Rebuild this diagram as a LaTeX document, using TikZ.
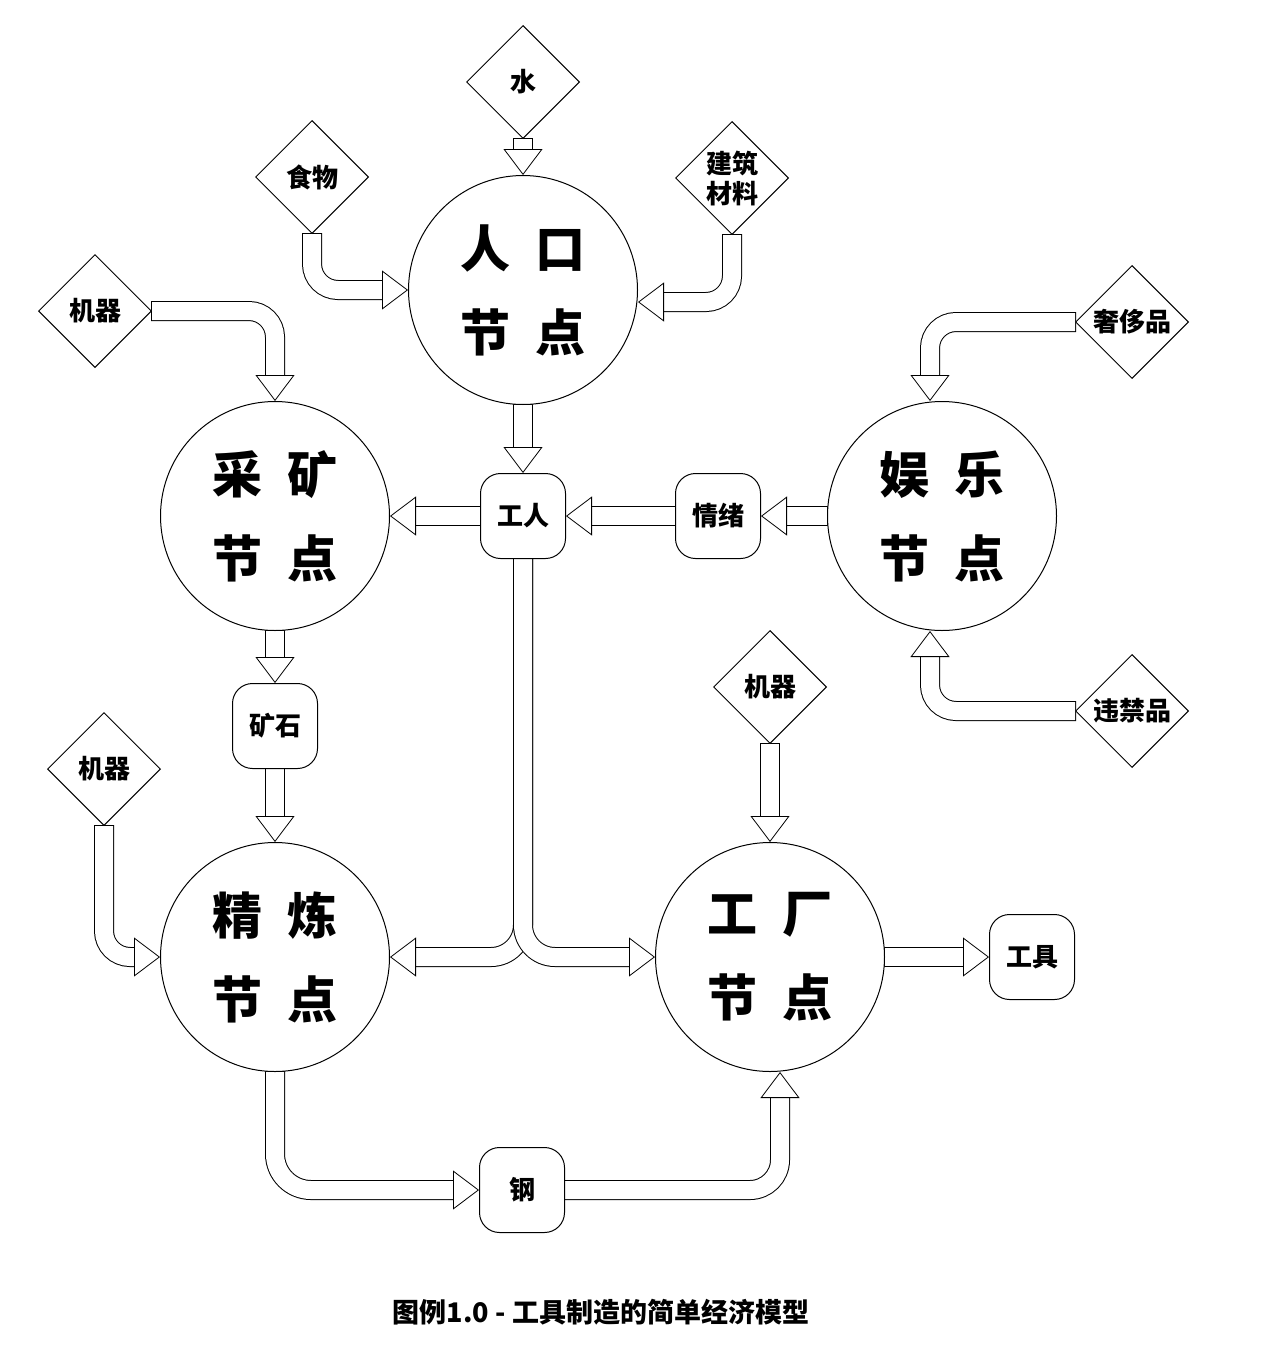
\documentclass[tikz,border=0pt]{standalone}
\usepackage{fontspec}
\newfontfamily\cjk{Noto Sans CJK SC}
\usetikzlibrary{arrows.meta, shapes.geometric}
\pgfdeclarelayer{pipes}
\pgfsetlayers{pipes,main}
\tikzset{
  hub/.style={circle, draw, fill=white, line width=1pt, minimum size=229pt, inner sep=0pt, align=center, font=\cjk\bfseries\fontsize{50pt}{84pt}\selectfont},
  good/.style={draw, fill=white, line width=1pt, rounded corners=20pt, minimum size=85pt, inner sep=0pt, align=center, font=\cjk\bfseries\fontsize{26pt}{30pt}\selectfont},
  supply/.style={diamond, draw, fill=white, line width=1pt, minimum size=113pt, inner sep=0pt, align=center, font=\cjk\bfseries\fontsize{26pt}{30pt}\selectfont},
  flow/.style={draw=white, line width=0.8pt, rounded corners=#1,
    preaction={draw=black, -, line width=20pt, shorten <=-1pt, shorten >=20pt},
    preaction={draw=white, -, line width=18pt, shorten >=19pt},
    -{Triangle[length=26pt, width=39pt, fill=white, color=black, line width=0.8pt]}},
  flow/.default=26pt
}
\newcommand{\gap}{\hspace{0.5em}}

\begin{document}
\begin{tikzpicture}[x=1pt, y=-1pt]
\useasboundingbox (0,0) rectangle (1269,1349);
\node[hub] (renkou) at (523,290) {人\gap 口\\节\gap 点};
\node[hub] (caikuang) at (275,516) {采\gap 矿\\节\gap 点};
\node[hub] (yule) at (942,516) {娱\gap 乐\\节\gap 点};
\node[hub] (jinglian) at (275,957) {精\gap 炼\\节\gap 点};
\node[hub] (gongchang) at (770,957) {工\gap 厂\\节\gap 点};
\node[good] (gongren) at (523,516) {工人};
\node[good] (qingxu) at (718,516) {情绪};
\node[good] (kuangshi) at (275,726) {矿石};
\node[good] (gang) at (522,1190) {钢};
\node[good] (gongju) at (1032,957) {工具};
\node[supply] (shui) at (523,82) {水};
\node[supply] (shiwu) at (312,177) {食物};
\node[supply] (jianzhu) at (732,178) {建筑\\材料};
\node[supply] (jiqiA) at (95,311) {机器};
\node[supply] (shechi) at (1132,322) {奢侈品};
\node[supply] (weijin) at (1132,711) {违禁品};
\node[supply] (jiqiB) at (770,687) {机器};
\node[supply] (jiqiC) at (104,769) {机器};
\node[font=\cjk\bfseries\fontsize{27pt}{32pt}\selectfont] (caption) at (601,1312) {图例1.0 - 工具制造的简单经济模型};
\coordinate (fork) at (523,957);

\begin{pgfonlayer}{pipes}
\draw[flow] (shui) -- (renkou);
\draw[flow] (shiwu) |- (renkou);
\draw[flow] (jianzhu) |- ([yshift=-12pt]renkou.east);
\draw[flow] (jiqiA) -| (caikuang);
\draw[flow] (renkou) -- (gongren);
\draw[flow] (gongren) -- (caikuang);
\draw[flow] (qingxu) -- (gongren);
\draw[flow] (yule) -- (qingxu);
\draw[flow] (shechi) -| ([xshift=-12pt]yule.north);
\draw[flow] (weijin) -| ([xshift=-12pt]yule.south);
\draw[flow] (caikuang) -- (kuangshi);
\draw[flow] (kuangshi) -- (jinglian);
\draw[flow] (jiqiC) |- (jinglian);
\draw[flow=32pt] (gongren) -- (fork) -- (jinglian);
\draw[flow=32pt] (gongren) -- (fork) -- (gongchang);
\draw[flow] (jiqiB) -- (gongchang);
\draw[flow] (gongchang) -- (gongju);
\draw[flow=36pt] (jinglian) |- (gang);
\draw[flow=30pt] (gang) -| ([xshift=10pt]gongchang.south);
\end{pgfonlayer}
\end{tikzpicture}
\end{document}
